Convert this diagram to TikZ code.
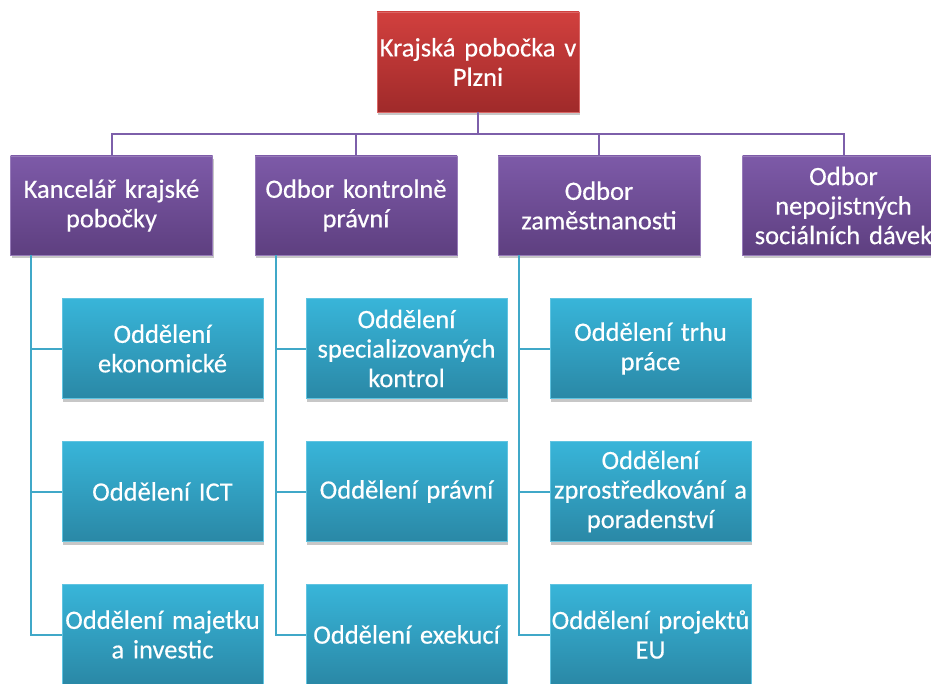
\documentclass[tikz,border=0pt]{standalone}
\usepackage{fontspec}
\setmainfont{Carlito}[FakeBold=0.35]
\usetikzlibrary{shadows,calc}
\definecolor{redtop}{RGB}{209,64,62}
\definecolor{redbot}{RGB}{160,42,42}
\definecolor{purtop}{RGB}{125,90,168}
\definecolor{purbot}{RGB}{94,63,128}
\definecolor{blutop}{RGB}{56,181,217}
\definecolor{blubot}{RGB}{42,136,166}
\definecolor{purline}{RGB}{125,95,170}
\definecolor{bluline}{RGB}{64,168,200}
\tikzset{
  boxbase/.style={rectangle, minimum width=202pt, minimum height=100pt, text width=200pt,
    execute at begin node={\centering}, text=white, inner sep=0pt,
    font=\fontsize{26.5}{29.5}\selectfont,
    general shadow={fill=black, opacity=0.22, shadow xshift=1pt, shadow yshift=-3pt}},
  redbox/.style={boxbase, top color=redtop, bottom color=redbot, draw=redtop!80!white, line width=0.4pt},
  purbox/.style={boxbase, minimum height=99pt, top color=purtop, bottom color=purbot, draw=purtop!80!white, line width=0.4pt},
  blubox/.style={boxbase, minimum width=201pt, top color=blutop, bottom color=blubot, draw=blutop!80!white, line width=0.4pt},
  purconn/.style={draw=purline, line width=2pt},
  bluconn/.style={draw=bluline, line width=2pt},
}
\begin{document}
\begin{tikzpicture}[x={(1pt,0)}, y={(0,-1pt)}]
\useasboundingbox (0,0) rectangle (931,684);
\fill[white] (0,0) rectangle (931,684);
% nodes
\node[redbox] (top) at (478,62) {Krajská pobočka v\\Plzni};
\node[purbox] (p1) at (111.5,205.5) {Kancelář krajské\\pobočky};
\node[purbox] (p2) at (356,205.5) {Odbor kontrolně\\právní};
\node[purbox] (p3) at (599,205.5) {Odbor\\zaměstnanosti};
\node[purbox] (p4) at (843.5,205.5) {Odbor\\nepojistných\\sociálních dávek};
\node[blubox] (c11) at (162.5,348.5) {Oddělení\\ekonomické};
\node[blubox] (c12) at (162.5,491.5) {Oddělení ICT};
\node[blubox] (c13) at (162.5,634.5) {Oddělení majetku\\a investic};
\node[blubox] (c21) at (406.5,348.5) {Oddělení\\specializovaných\\kontrol};
\node[blubox] (c22) at (406.5,491.5) {Oddělení právní};
\node[blubox] (c23) at (406.5,634.5) {Oddělení exekucí};
\node[blubox] (c31) at (650.5,348.5) {Oddělení trhu\\práce};
\node[blubox] (c32) at (650.5,491.5) {Oddělení\\zprostředkování a\\poradenství};
\node[blubox] (c33) at (650.5,634.5) {Oddělení projektů\\EU};
% connectors
\coordinate (bus) at (478,134);
\draw[purconn] (top.south) -- (bus);
\draw[purconn] (bus) -| (p1.north);
\draw[purconn] (bus) -| (p2.north);
\draw[purconn] (bus) -| (p3.north);
\draw[purconn] (bus) -| (p4.north);
\coordinate (s1) at ($(p1.south west)+(21,0)$);
\coordinate (s2) at ($(p2.south west)+(21,0)$);
\coordinate (s3) at ($(p3.south west)+(21,0)$);
\draw[bluconn] (s1) |- (c11.west);
\draw[bluconn] (s1) |- (c12.west);
\draw[bluconn] (s1) |- (c13.west);
\draw[bluconn] (s2) |- (c21.west);
\draw[bluconn] (s2) |- (c22.west);
\draw[bluconn] (s2) |- (c23.west);
\draw[bluconn] (s3) |- (c31.west);
\draw[bluconn] (s3) |- (c32.west);
\draw[bluconn] (s3) |- (c33.west);
\end{tikzpicture}
\end{document}
